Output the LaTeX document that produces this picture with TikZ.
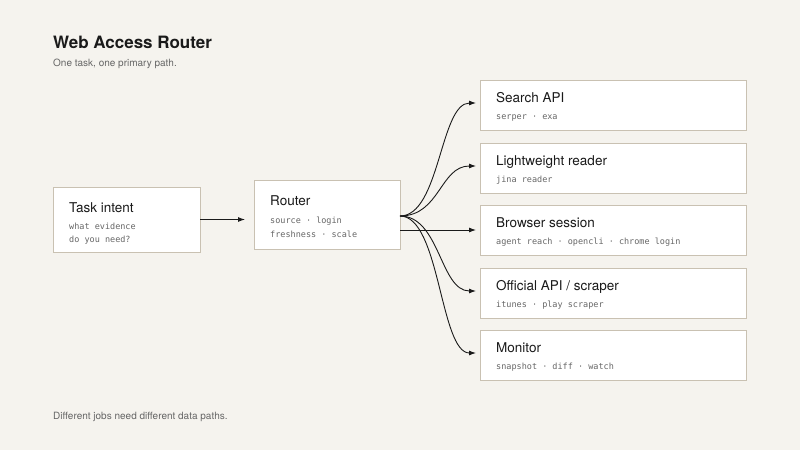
\documentclass[tikz,border=0pt]{standalone}
\usepackage{fontspec}
\setmainfont{TeX Gyre Heros}
\newfontfamily\monof{DejaVu Sans Mono}
\usetikzlibrary{arrows.meta}
\definecolor{bg}{HTML}{F5F3EE}
\definecolor{bd}{HTML}{C9C1B2}
\definecolor{tx}{HTML}{1A1A1A}
\definecolor{mt}{HTML}{666666}
\begin{document}
\begin{tikzpicture}[x=1pt,y=-1pt,
  box/.style={draw=bd,fill=white,line width=0.9pt},
  ttl/.style={anchor=base west,text=tx,font=\fontsize{13.5}{15}\selectfont,inner sep=0},
  sub/.style={anchor=base west,text=mt,font=\monof\fontsize{8.5}{15}\selectfont,inner sep=0},
  arr/.style={-{Latex[length=7pt,width=5pt]},line width=0.9pt,draw=tx}]
\fill[bg] (0,0) rectangle (800,450);
\useasboundingbox (0,0) rectangle (800,450);
\node[anchor=base west,inner sep=0,text=tx,font=\bfseries\fontsize{17}{20}\selectfont] (title) at (53,48) {Web Access Router};
\node[anchor=base west,inner sep=0,text=mt,font=\fontsize{10}{12}\selectfont] (subt) at (53,66) {One task, one primary path.};
\node[anchor=base west,inner sep=0,text=mt,font=\fontsize{10}{12}\selectfont] (foot) at (53,419) {Different jobs need different data paths.};
% task
\path[box] (53,187) rectangle (200,252);
\coordinate (tR) at (200,219.5);
\node[ttl] (t1) at (69,212) {Task intent};
\node[sub] (t2) at (69,229) {what evidence};
\node[sub] (t3) at (69,242) {do you need?};
% router
\path[box] (254,180) rectangle (400,249);
\coordinate (rL) at (245,219.5);
\coordinate (rO) at (400,216);
\coordinate (rO2) at (400,230);
\node[ttl] (r1) at (270,205) {Router};
\node[sub] (r2) at (270,223) {source · login};
\node[sub] (r3) at (270,237) {freshness · scale};
\draw[arr] (tR) -- (rL);
% right boxes
\foreach \i/\y/\a/\b in {1/80/{Search API}/{serper · exa},2/143/{Lightweight reader}/{jina reader},3/205/{Browser session}/{agent reach · opencli · chrome login},4/268/{Official API / scraper}/{itunes · play scraper},5/330/{Monitor}/{snapshot · diff · watch}}{
  \path[box] (480,\y) rectangle (746,\y+50);
  \node[ttl] (h\i) at (496,\y+22) {\a};
  \node[sub] (s\i) at (496,\y+39) {\b};
}
\coordinate (e1) at (476,103);
\coordinate (e2) at (476,166);
\coordinate (e3) at (476,230);
\coordinate (e4) at (476,291);
\coordinate (e5) at (476,353);
\draw[arr] (rO) .. controls (440,216) and (440,103) .. (e1);
\draw[arr] (rO) .. controls (440,216) and (440,166) .. (e2);
\draw[arr] (rO2) -- (e3);
\draw[arr] (rO) .. controls (440,216) and (440,291) .. (e4);
\draw[arr] (rO) .. controls (440,216) and (440,353) .. (e5);
\end{tikzpicture}
\end{document}
